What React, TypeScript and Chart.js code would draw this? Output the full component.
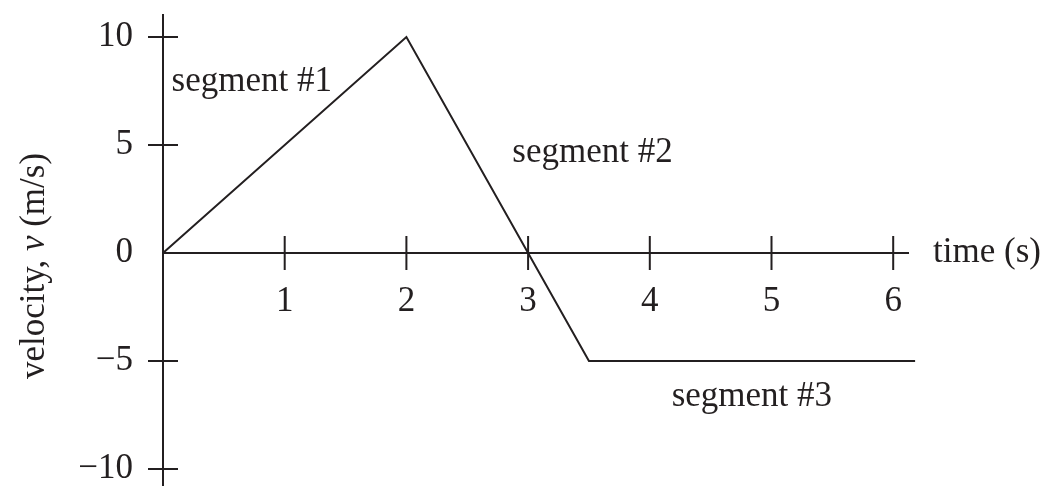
import React, { useEffect, useRef } from "react";
import { Chart, registerables } from "chart.js";

Chart.register(...registerables);

// Velocity–time graph: three straight segments
const times = [0, 2, 3.5, 6.18];
const velocities = [0, 10, -5, -5];

// Axis ticks and labels
const xTicks = [1, 2, 3, 4, 5, 6];
const xTickLabels = ["1", "2", "3", "4", "5", "6"];
const yTicks = [10, 5, 0, -5, -10];
const yTickLabels = ["10", "5", "0", "\u22125", "\u221210"];

// Segment annotations: [label, time, velocity] anchor (left/baseline)
const segmentLabels = ["segment #1", "segment #2", "segment #3"];
const segmentAnchorT = [0.07, 2.87, 4.18];
const segmentAnchorV = [7.5, 4.2, -7.1];

const xAxisTitle = "time (s)";
const yTitleParts = ["velocity, ", "v", " (m/s)"];

const X_MIN = 0;
const X_MAX = 6.25;
const X_AXIS_END = 6.13;
const Y_MIN = -10.787;
const Y_MAX = 11.065;

const INK = "#231f20";
const FONT = "\"Liberation Serif\", \"Times New Roman\", serif";
const FONT_SIZE = 35;

const axesPlugin = {
  id: "physicsAxes",
  beforeDatasetsDraw(chart: any) {
    const { ctx } = chart;
    const xs = chart.scales.x;
    const ys = chart.scales.y;
    const x0 = xs.getPixelForValue(0);
    const y0 = ys.getPixelForValue(0);
    ctx.save();
    ctx.strokeStyle = INK;
    ctx.lineWidth = 2;
    ctx.beginPath();
    // vertical axis
    ctx.moveTo(x0, chart.chartArea.top);
    ctx.lineTo(x0, chart.height);
    // horizontal axis
    ctx.moveTo(x0, y0);
    ctx.lineTo(xs.getPixelForValue(X_AXIS_END), y0);
    // crossing tick marks
    xTicks.forEach((t) => {
      const px = xs.getPixelForValue(t);
      ctx.moveTo(px, y0 - 17);
      ctx.lineTo(px, y0 + 17);
    });
    yTicks.forEach((v) => {
      if (v === 0) return;
      const py = ys.getPixelForValue(v);
      ctx.moveTo(x0 - 15, py);
      ctx.lineTo(x0 + 15, py);
    });
    ctx.stroke();
    ctx.restore();
  },
  afterDraw(chart: any) {
    const { ctx } = chart;
    const xs = chart.scales.x;
    const ys = chart.scales.y;
    const x0 = xs.getPixelForValue(0);
    const y0 = ys.getPixelForValue(0);
    ctx.save();
    ctx.fillStyle = INK;
    ctx.font = `${FONT_SIZE}px ${FONT}`;

    // x tick labels
    ctx.textAlign = "center";
    ctx.textBaseline = "alphabetic";
    xTicks.forEach((t, i) => {
      ctx.fillText(xTickLabels[i], xs.getPixelForValue(t), y0 + 58);
    });

    // y tick labels
    ctx.textAlign = "right";
    ctx.textBaseline = "middle";
    yTicks.forEach((v, i) => {
      ctx.fillText(yTickLabels[i], x0 - 30, ys.getPixelForValue(v));
    });

    // x axis title
    ctx.textAlign = "left";
    ctx.textBaseline = "middle";
    ctx.fillText(xAxisTitle, xs.getPixelForValue(X_AXIS_END) + 24, y0);

    // segment labels
    ctx.textBaseline = "alphabetic";
    segmentLabels.forEach((s, i) => {
      ctx.fillText(
        s,
        xs.getPixelForValue(segmentAnchorT[i]),
        ys.getPixelForValue(segmentAnchorV[i])
      );
    });

    // y axis title (rotated, italic v)
    const normal = `${FONT_SIZE}px ${FONT}`;
    const italic = `italic ${FONT_SIZE}px ${FONT}`;
    const fonts = [normal, italic, normal];
    let total = 0;
    const widths = yTitleParts.map((p, i) => {
      ctx.font = fonts[i];
      const w = ctx.measureText(p).width;
      total += w;
      return w;
    });
    ctx.translate(44, 266);
    ctx.rotate(-Math.PI / 2);
    let cx = -total / 2;
    yTitleParts.forEach((p, i) => {
      ctx.font = fonts[i];
      ctx.fillText(p, cx, 0);
      cx += widths[i];
    });
    ctx.restore();
  },
};

export default function App() {
  const canvasRef = useRef<HTMLCanvasElement | null>(null);

  useEffect(() => {
    const canvas = canvasRef.current;
    if (!canvas) return;
    const chart = new Chart(canvas, {
      type: "scatter",
      data: {
        datasets: [
          {
            data: times.map((t, i) => ({ x: t, y: velocities[i] })),
            showLine: true,
            borderColor: INK,
            borderWidth: 2,
            pointRadius: 0,
            tension: 0,
            fill: false,
            clip: false as any,
          },
        ],
      },
      options: {
        responsive: false,
        animation: false,
        layout: {
          padding: { left: 163, right: 1048 - (163 + X_MAX * 121.7), top: 14, bottom: 0 },
        },
        plugins: {
          legend: { display: false },
          tooltip: { enabled: false },
        },
        scales: {
          x: { type: "linear", min: X_MIN, max: X_MAX, display: false },
          y: { type: "linear", min: Y_MIN, max: Y_MAX, display: false },
        },
      },
      plugins: [axesPlugin],
    });
    return () => chart.destroy();
  }, []);

  return (
    <div style={{ position: "fixed", left: 0, top: 0, width: 1048, height: 486, background: "#fff" }}>
      <canvas ref={canvasRef} width={1048} height={486} style={{ display: "block" }} />
    </div>
  );
}
